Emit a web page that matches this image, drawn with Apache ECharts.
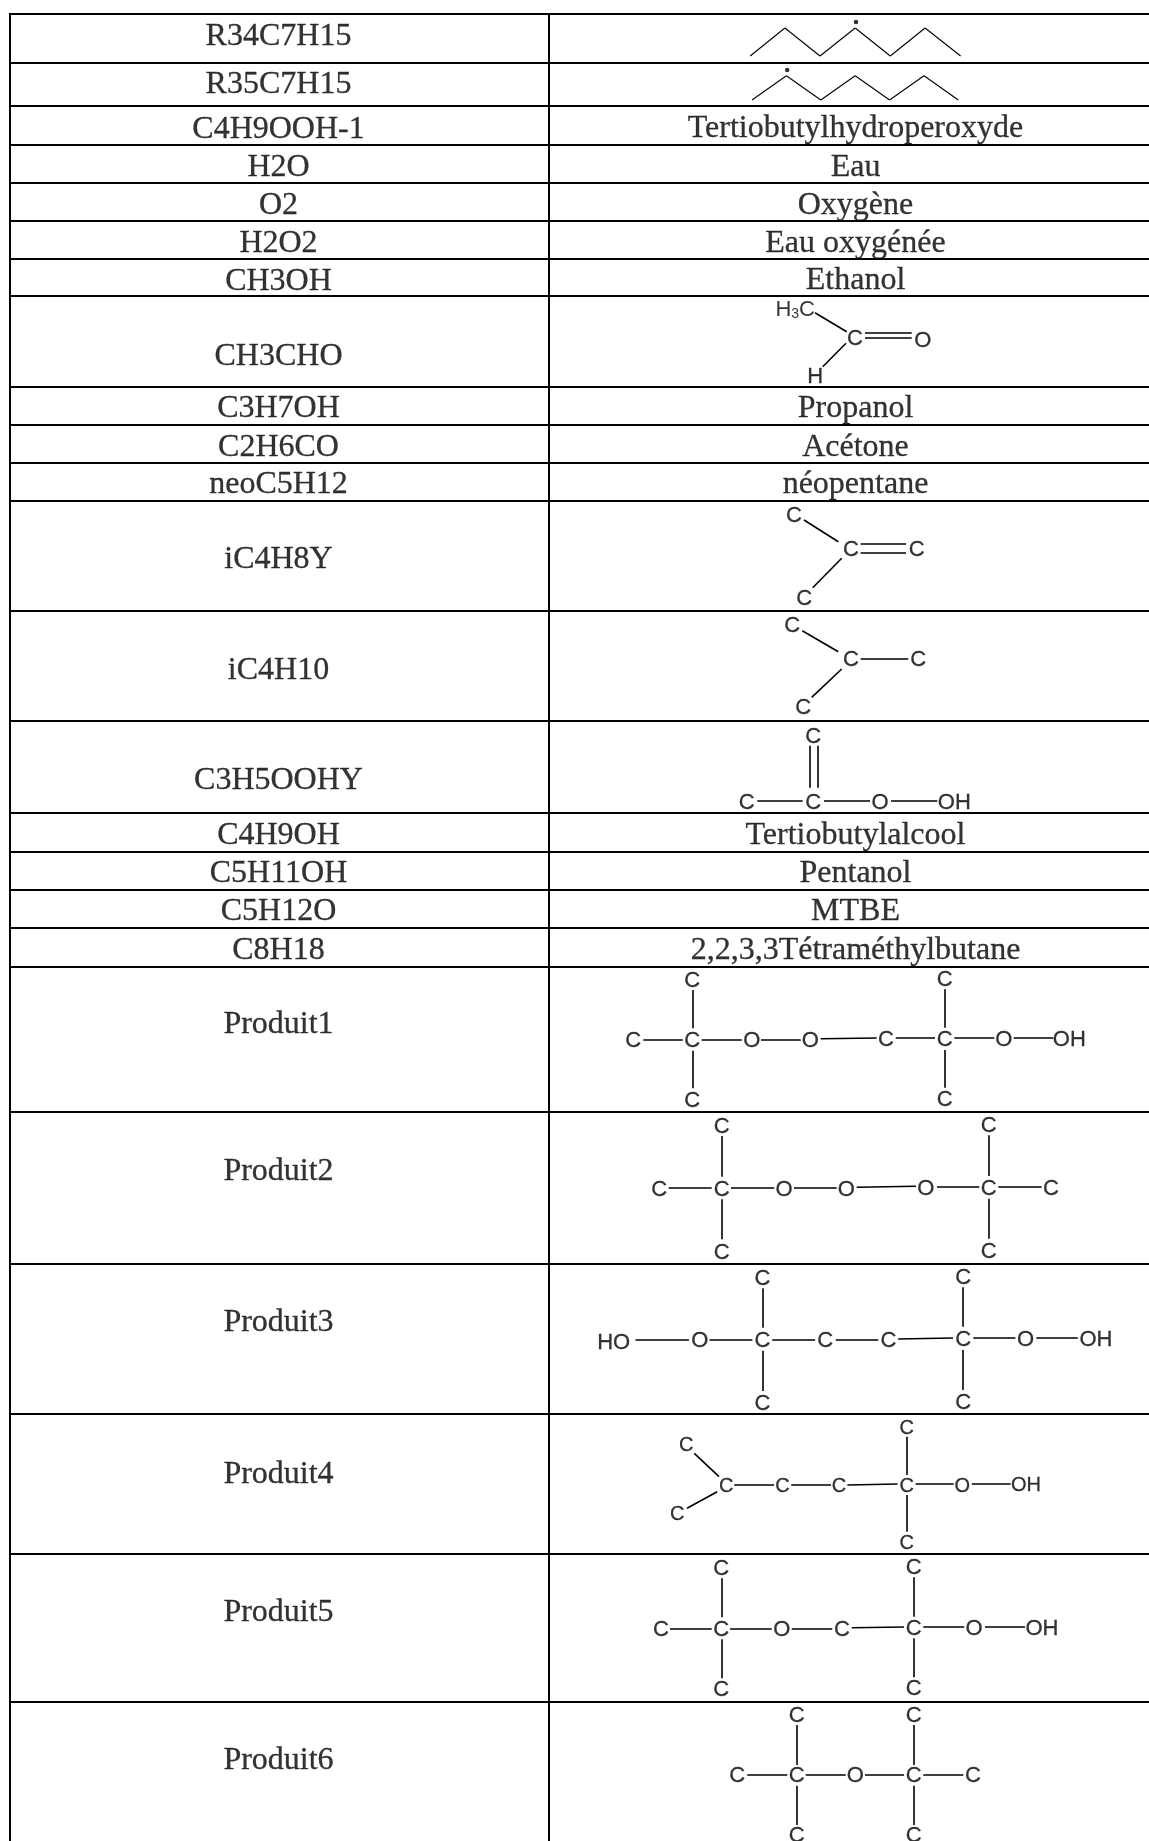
<!DOCTYPE html>
<html><head><meta charset="utf-8">
<style>html,body{margin:0;padding:0;background:#fff}#c{width:1149px;height:1841px}</style>
<script src="https://cdn.jsdelivr.net/npm/echarts@6/dist/echarts.min.js"></script>
</head><body><div id="c"></div>
<script>
// Table grid (page units)
const columnEdges = [10, 549];
const tableRight = 1150;
const tableBottom = 1846;
const rowEdges = [14, 63, 106, 145, 183, 221, 259, 296, 387, 425, 463, 501, 611, 721, 813, 852, 890, 928, 967, 1112, 1264, 1414, 1554, 1702];

// Cell texts: [text, y]
const leftCells = [
  ['R34C7H15',36.5],['R35C7H15',84.5],['C4H9OOH-1',130],['H2O',168],['O2',205.5],['H2O2',244],['CH3OH',282],['CH3CHO',356.5],
  ['C3H7OH',409],['C2H6CO',448],['neoC5H12',485],['iC4H8Y',560],['iC4H10',670.5],['C3H5OOHY',780.5],
  ['C4H9OH',835.5],['C5H11OH',873.5],['C5H12O',912],['C8H18',951],
  ['Produit1',1025],['Produit2',1172],['Produit3',1323],['Produit4',1475],['Produit5',1613],['Produit6',1761]
];
const rightCells = [
  ['Tertiobutylhydroperoxyde',129],['Eau',167.5],['Oxygène',205.5],['Eau oxygénée',243.5],['Ethanol',281],
  ['Propanol',409],['Acétone',448],['néopentane',485],
  ['Tertiobutylalcool',835.5],['Pentanol',873.5],['MTBE',912],['2,2,3,3Tétraméthylbutane',951]
];

// Skeletal chains and radical dots
const chainR34 = [[750.2,56],[784.9,28],[820,56],[855.2,28],[890.3,56],[925.1,28],[960.6,56]];
const chainR35 = [[752,100],[786.4,75.7],[820.8,100],[855.2,75.7],[889.6,100],[924,75.7],[958.3,100]];
const radicalDots = [[856,22],[787.2,70]];

// Molecules: atoms [label,x,y], bonds [x1,y1,x2,y2]
const ch3choAtoms = [['C',855,338.5],['O',922.7,340],['H',815.3,376]];
const ch3choBonds = [[815,312.7,846.7,331.7],[846,343.3,822.7,366.7],[865,332.3,911.7,332.3],[865,338,911.7,338]];
const h3cLabel = [795.2,310];

const ic4h8yAtoms = [['C',794,515],['C',851,549],['C',916.7,549],['C',804.3,597.7]];
const ic4h8yBonds = [[804,520,838.3,541.7],[841.7,558.3,812.7,587.7],[860.7,544,906,544],[860.7,552.3,906,552.3]];

const ic4h10Atoms = [['C',792.3,625],['C',851,659],['C',918.3,659],['C',803.3,706.7]];
const ic4h10Bonds = [[802.3,630.7,838.3,651.7],[841.7,669,811.7,697.3],[860.7,658.3,908.3,658.3]];

const c3h5oohAtoms = [['C',813.3,735.7],['C',813.3,801.7],['C',746.7,801.7],['O',880,801.7],['OH',954.3,801.7]];
const c3h5oohBonds = [[810,745.7,810,787.7],[817.3,745.7,817.3,787.7],[757.3,800.7,802.7,800.7],[824,800.7,870,800.7],[891,800.7,937.3,800.7]];

const p1Atoms = [['C',692.3,980],['C',692.3,1040],['C',633.3,1040],['C',692.3,1100],['O',751.7,1040],['O',810.3,1040],['C',886,1039],['C',944.7,1039],['C',944.7,979],['C',944.7,1099],['O',1003.7,1039],['OH',1069.3,1039]];
const p1Bonds = [[692.3,990,692.3,1028.3],[692.3,1050.7,692.3,1088.3],[643.3,1039.3,682.7,1039.3],[701.7,1039.3,741.7,1039.3],[761,1039.3,800.7,1039.3],[820.7,1038.7,876.7,1038],[895.7,1038,935,1038],[944.7,989.3,944.7,1027.7],[944.7,1050,944.7,1087.7],[954.3,1038,994.3,1038],[1013.7,1038,1053.3,1038]];

const p2Atoms = [['C',721.7,1125.7],['C',721.7,1189],['C',659.3,1189],['C',721.7,1251.7],['O',784,1189],['O',846.3,1189],['O',925.7,1188],['C',988.7,1188],['C',988.7,1125],['C',988.7,1250.7],['C',1051,1188]];
const p2Bonds = [[721.7,1136,721.7,1176.7],[721.7,1199.3,721.7,1239.3],[668.7,1187.7,711.7,1187.7],[731,1187.7,774.3,1187.7],[794,1187.7,836.7,1187.7],[856.7,1187.3,916,1186.3],[937,1186.3,979.3,1186.3],[988.7,1135.3,988.7,1176],[988.7,1198.7,988.7,1238.7],[998.3,1186.3,1041.7,1186.3]];

const p3Atoms = [['HO',613.7,1342.3],['O',699.7,1340],['C',762.5,1340],['C',762.5,1277.7],['C',762.5,1402.7],['C',825.3,1340],['C',888.4,1340],['C',963.2,1339.3],['C',963.2,1276.7],['C',963.2,1401.7],['O',1025.6,1339.3],['OH',1096,1339.3]];
const p3Bonds = [[635.5,1339.3,688.9,1339.3],[709.5,1339.3,752.4,1339.3],[762.5,1288.3,762.5,1327.7],[762.5,1350.7,762.5,1391],[772.3,1339.3,815.1,1339.3],[835.8,1339.3,878.3,1339.3],[898.2,1339,953,1338],[963.2,1287.3,963.2,1326.7],[963.2,1350,963.2,1390],[973.3,1338,1015.4,1338],[1036.4,1338,1077.8,1338]];

const p4Atoms = [['C',686.3,1445],['C',677.2,1514],['C',726.2,1485.7],['C',782.5,1485.7],['C',839,1485.7],['C',906.6,1485.7],['C',906.6,1427.3],['C',906.6,1542.3],['O',962.4,1485.7],['OH',1026,1485]];
const p4Bonds = [[694.3,1453.3,719,1476.7],[687,1508.3,717.2,1491.7],[734.2,1485,774.1,1485],[791.2,1485,831,1485],[847.4,1485,897.5,1484],[906.6,1436.7,906.6,1475],[906.6,1495,906.6,1531.7],[915.6,1484,953.7,1484],[971.9,1484,1010.7,1484]];

const p5Atoms = [['C',721.3,1568],['C',721.3,1628.7],['C',661,1628.7],['C',721.3,1689.3],['O',781.7,1628.7],['C',842,1628.7],['C',913.7,1627.7],['C',913.7,1567.3],['C',913.7,1688.3],['O',974,1627.7],['OH',1042,1627.7]];
const p5Bonds = [[721.3,1578.3,721.3,1617.3],[721.3,1639.3,721.3,1678.3],[670,1628.3,711.7,1628.3],[730,1628.3,771.7,1628.3],[791.7,1628.3,832.3,1628.3],[851.7,1627.7,904,1627],[913.7,1577.3,913.7,1616.7],[913.7,1638.3,913.7,1677.3],[923.3,1627,964.3,1627],[985,1627,1025,1627]];

const p6Atoms = [['C',796.7,1715],['C',796.7,1775],['C',737.3,1775],['C',796.7,1835],['O',855.3,1775],['C',913.7,1775],['C',913.7,1715],['C',913.7,1835],['C',973,1775]];
const p6Bonds = [[796.7,1725,796.7,1765],[796.7,1785.7,796.7,1825],[747.3,1774.7,787.3,1774.7],[805.7,1774.7,845.7,1774.7],[865,1774.7,904,1774.7],[913.7,1725,913.7,1765],[913.7,1785.7,913.7,1825],[923.3,1774.7,963.3,1774.7]];

const allAtoms = [].concat(ch3choAtoms, ic4h8yAtoms, ic4h10Atoms, c3h5oohAtoms, p1Atoms, p2Atoms, p3Atoms, p5Atoms, p6Atoms);
const allBonds = [].concat(ch3choBonds, ic4h8yBonds, ic4h10Bonds, c3h5oohBonds, p1Bonds, p2Bonds, p3Bonds, p4Bonds, p5Bonds, p6Bonds);
const chainSegs = c => c.slice(1).map((p, i) => [c[i][0], c[i][1], p[0], p[1]]);
const toLine = b => ({coords: [[b[0], b[1]], [b[2], b[3]]]});
const bondLines = allBonds.map(toLine);
const chainLines = chainSegs(chainR34).concat(chainSegs(chainR35)).map(toLine);

const tableTop = rowEdges[0], tableLeft = columnEdges[0];
const ruleLines = rowEdges.map(y => ({coords: [[tableLeft - 1, y], [tableRight, y]]}))
  .concat(columnEdges.map(x => ({coords: [[x, tableTop - 1], [x, tableBottom]]})));

const SERIF = '"Liberation Serif","Times New Roman",serif';
const SANS = '"Liberation Sans",Arial,sans-serif';
const textSeries = (data, family, size, name) => ({
  type: 'scatter', name, coordinateSystem: 'cartesian2d', symbolSize: 1, silent: true,
  itemStyle: {color: 'transparent'}, data, clip: false,
  label: {show: true, position: 'inside', align: 'center', verticalAlign: 'middle',
    color: '#000', fontFamily: family, fontSize: size, textBorderColor: '#000', textBorderWidth: 0.3,
    formatter: p => p.data[2]}
});
const lineSeries = (data, width) => ({type: 'lines', coordinateSystem: 'cartesian2d', silent: true, data, lineStyle: {color: '#000', width, opacity: 1}});
const atomShift = 0.8;

const chart = echarts.init(document.getElementById('c'), null, {renderer: 'canvas'});
chart.setOption({
  animation: false, backgroundColor: '#fff',
  grid: {left: 0, right: 0, top: 0, bottom: 0, containLabel: false},
  xAxis: {type: 'value', min: 0, max: 1149, show: false},
  yAxis: {type: 'value', min: 0, max: 1841, inverse: true, show: false},
  series: [
    lineSeries(ruleLines, 2),
    lineSeries(bondLines, 1.6),
    lineSeries(chainLines, 1.1),
    {type: 'scatter', coordinateSystem: 'cartesian2d', silent: true, symbolSize: 4.5, itemStyle: {color: '#000'}, data: radicalDots},
    textSeries(leftCells.map(c => [278.5, c[1], c[0]]), SERIF, 32, 'left'),
    textSeries(rightCells.map(c => [855.5, c[1], c[0]]), SERIF, 32, 'right'),
    textSeries(allAtoms.map(a => [a[1], a[2] + atomShift, a[0]]), SANS, 22, 'atoms'),
    textSeries(p4Atoms.map(a => [a[1], a[2] + atomShift, a[0]]), SANS, 20, 'atomsP4'),
    {type: 'scatter', coordinateSystem: 'cartesian2d', silent: true, symbolSize: 1, itemStyle: {color: 'transparent'},
      data: [h3cLabel],
      label: {show: true, position: 'inside', formatter: '{a|H}{s|3}{a|C}', align: 'center', verticalAlign: 'middle',
        rich: {a: {fontFamily: SANS, fontSize: 22, color: '#000'}, s: {fontFamily: SANS, fontSize: 14, color: '#000', verticalAlign: 'bottom', padding: [8, 0, 0, 0]}}}}
  ]
});
</script></body></html>
